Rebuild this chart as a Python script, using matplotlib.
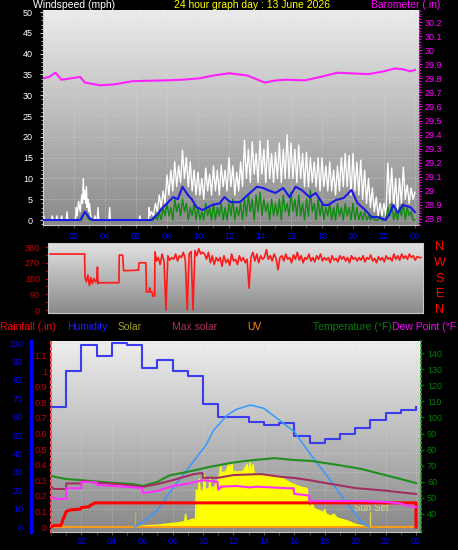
import numpy as np
import matplotlib
matplotlib.use('Agg')
import matplotlib.pyplot as plt
from matplotlib.colors import LinearSegmentedColormap
from matplotlib.ticker import MultipleLocator, FuncFormatter

plt.rcParams['font.family'] = ['Liberation Sans', 'DejaVu Sans']

# ---------------- data ----------------
hour_ticks = [2, 4, 6, 8, 10, 12, 14, 16, 18, 20, 22, 24]
hour_labels = ['02', '04', '06', '08', '10', '12', '14', '16', '18', '20', '22', '00']

# barometer (in)
baro_t = [0, 0.4, 0.8, 1.2, 1.8, 2.4, 2.7, 3.2, 3.7, 4.6, 5.8, 7.0, 8.0, 9.0, 10.1, 11.0, 12.0,
          13.2, 14.3, 15.0, 15.6, 16.9, 17.9, 19.0, 20.0, 21.0, 22.0, 22.7, 23.2, 23.7, 24.0]
baro = [29.80, 29.81, 29.84, 29.79, 29.80, 29.81, 29.77, 29.76, 29.75, 29.757, 29.78, 29.783,
        29.786, 29.79, 29.80, 29.82, 29.836, 29.82, 29.77, 29.785, 29.79, 29.786, 29.81, 29.84,
        29.835, 29.83, 29.85, 29.87, 29.865, 29.85, 29.86]

# wind gust (mph): sparse night samples, then 8 samples per hour from 07h
gust_early_t = [0, 0.05, 0.1, 0.55, 0.6, 0.65, 0.85, 0.9, 0.95, 1.15, 1.2, 1.25, 1.5, 1.55, 1.6,
                2.1, 2.15, 2.2, 2.3, 2.4, 2.5, 2.55, 2.6, 2.65, 2.7, 2.75, 2.8, 2.85, 2.9, 2.95,
                3.0, 3.1, 3.3, 3.35, 3.4, 3.5, 3.55, 3.6, 4.25, 4.3, 4.35, 6.2, 6.25, 6.3,
                6.8, 6.85, 6.9]
gust_early = [0, 1, 0, 0, 1, 0, 0, 1, 0, 0, 1, 0, 0, 2, 0, 0, 3, 1,
              4.5, 2, 6, 4, 10, 5, 7, 4, 8, 3, 5, 2, 4, 0,
              0, 1, 0, 0, 3, 0, 0, 3, 0, 0, 1, 0, 0, 3, 1]
gust_hourly = [
    [2, 1, 4, 2, 6, 3, 7, 4],              # 07
    [10.8, 6, 12, 7, 14, 8, 13, 9],        # 08
    [16.8, 10, 15, 8, 14, 7, 12, 6],       # 09
    [11.5, 6, 10, 5, 12.5, 7, 11, 6],      # 10
    [13, 7, 12, 6, 13.2, 8, 12, 7],        # 11
    [15, 8, 13, 6, 11.5, 7, 14, 8],        # 12
    [19.2, 10, 17, 9, 18.8, 11, 16, 9],    # 13
    [19, 11, 17, 9, 19.2, 10, 16, 9],      # 14
    [16.3, 10, 18.5, 9, 17, 10, 20.5, 10], # 15
    [18.5, 10, 17, 9, 18, 10, 16, 8],      # 16
    [16.3, 8, 15, 9, 14, 8, 15, 7],        # 17
    [14.9, 8, 13, 7, 14, 7, 12, 6],        # 18
    [13, 7, 15, 8, 16, 8, 15.5, 6],        # 19
    [16, 7, 14, 6, 14.4, 5, 12, 4],        # 20
    [10, 3, 7.7, 2, 5.5, 1, 4.1, 1],       # 21
    [4, 1, 13.7, 4, 12.5, 3, 10, 2],       # 22
    [10, 4, 12.7, 5, 8.4, 4, 7.7, 5],      # 23
]
gust_last = 6.7

# wind speed (mph)
speed_early_t = [0, 2.5, 2.6, 2.7, 2.8, 2.9, 3.0, 6.9]
speed_early = [0, 0, 1, 2, 1.5, 0.5, 0, 0]
speed_hourly = [
    [0, 0, 1, 0, 2, 0, 3, 1],
    [4, 1, 3, 0, 5, 2, 4, 1],
    [5, 2, 4, 0, 3, 1, 4, 0],
    [3, 0, 2, 0, 4, 1, 3, 0],
    [4, 0, 3, 1, 4, 0, 3, 0],
    [4, 1, 5, 0, 3, 1, 4, 0],
    [5, 1, 6, 2, 5, 0, 6, 2],
    [6.7, 1, 5, 2, 4, 0, 5, 1],
    [4, 1, 5, 0, 6, 2, 4, 1],
    [6.7, 2, 5, 1, 6, 1, 4, 0],
    [5, 1, 7.2, 2, 4, 0, 5, 1],
    [4, 0, 3, 1, 4, 0, 3, 0],
    [4, 1, 3, 0, 4, 1, 3, 0],
    [4, 0, 3, 0, 2, 0, 2, 0],
    [1, 0, 1, 0, 0, 0, 1, 0],
    [0, 0, 3, 1, 4, 0, 2, 0],
    [3, 1, 4, 0, 3, 1, 2, 0],
]
speed_last = 0

# average wind speed (mph)
avg_t = [0, 2.4, 2.55, 2.7, 2.85, 3.0, 3.2, 7.0, 7.35, 7.7, 8.0, 8.4, 8.7, 9.0, 9.35, 9.6, 9.9,
         10.3, 10.9, 11.4, 11.7, 12.1, 12.7, 13.2, 13.8, 14.2, 14.5, 15.0, 15.5, 15.9, 16.3,
         16.7, 17.2, 17.6, 18.1, 18.4, 18.9, 19.4, 19.9, 20.3, 20.8, 21.2, 21.6, 22.1, 22.4,
         22.6, 22.9, 23.2, 23.7, 24.0]
avg = [0, 0, 1, 2, 1.2, 0.5, 0, 0, 1.2, 2.9, 4, 5.5, 5, 8, 6, 5, 3.1,
       2.4, 3.6, 4, 5.5, 4.3, 4.3, 6, 8, 7.7, 7.2, 6.5, 7.7, 5.5, 8,
       7.2, 5.5, 6.5, 3.6, 3.6, 4.8, 5.3, 7.2, 4, 2.4, 0.7, 0.7, 0, 1.7,
       3.6, 1.7, 3.6, 3.1, 1.9]

# wind direction (deg)
dir_early_t = [0, 2.24, 2.26, 2.35, 2.45, 2.55, 2.65, 2.75, 2.85, 2.95, 3.03, 3.07, 3.1, 3.15,
               4.46, 4.48, 4.7, 4.76, 5.3, 5.72, 5.76, 6.2, 6.24, 6.4, 6.45, 6.5, 6.6, 6.64,
               6.77, 6.79, 6.9]
dir_early = [320, 320, 190, 160, 200, 140, 185, 150, 180, 160, 170, 246, 150, 156,
             156, 314, 314, 225, 226, 228, 270, 270, 103, 103, 126, 103, 103, 80,
             80, 333, 280]
dir_hourly = [
    [300, 260, 320, 280, 0, 310, 285, 300],    # 07
    [290, 320, 280, 310, 300, 330, 290, 0],    # 08
    [320, 335, 0, 340, 310, 350, 320, 330],    # 09
    [320, 290, 330, 270, 310, 260, 300, 280],  # 10
    [300, 250, 310, 270, 290, 255, 320, 280],  # 11
    [290, 260, 310, 280, 300, 270, 290, 125],  # 12
    [300, 330, 280, 320, 270, 310, 290, 300],  # 13
    [345, 290, 310, 280, 320, 295, 230, 300],  # 14
    [310, 280, 320, 290, 300, 270, 315, 290],  # 15
    [330, 285, 310, 270, 300, 290, 320, 280],  # 16
    [300, 275, 310, 290, 320, 280, 300, 285],  # 17
    [300, 270, 310, 285, 295, 275, 310, 290],  # 18
    [305, 280, 300, 270, 310, 290, 300, 280],  # 19
    [300, 285, 310, 275, 300, 290, 315, 280],  # 20
    [295, 270, 305, 285, 300, 275, 310, 290],  # 21
    [300, 280, 320, 290, 310, 285, 320, 295],  # 22
    [310, 290, 320, 300, 310, 285, 305, 300],  # 23
]
dir_last = 300

# bottom panel
hum_t = [0, 1, 2, 3, 4, 5, 6, 7, 8, 9, 10, 11, 12, 13, 14, 15, 16, 17, 18, 19, 20, 21, 22, 23, 24]
hum = [65, 85, 99, 93, 100, 99, 86.5, 91, 85, 82, 67, 60, 60, 57, 55.5, 56.5, 49.5, 45.6, 47.8,
       50.5, 54, 58, 62, 63.5, 65]

temp_t = [0, 1, 2, 3.2, 4.3, 5.4, 6.05, 7.0, 7.8, 8.9, 10.3, 11.8, 12.8, 14.7, 16.0, 17.1,
          18.9, 20.4, 22.0, 23.0, 24.0]
temp = [63.6, 61.7, 61.0, 60.0, 59.2, 58.6, 57.4, 60.0, 64.0, 66.0, 69.0, 71.7, 73.0, 74.7,
        73.5, 73.0, 70.4, 68.0, 64.1, 61.7, 59.2]

dew_t = [0, 0.4, 1.0, 1.0, 2.0, 2.0, 3.0, 3.0, 4.1, 5.1, 6.0, 6.05, 7.0, 8.0, 9.0, 10.0, 10.95,
         11.0, 11.2, 12.2, 13.1, 13.5, 15.5, 15.95, 16.0, 16.95, 17.0, 19.0, 20.5, 22.0, 23.0,
         23.5, 24.0]
dew = [50.6, 49.3, 49.3, 56.0, 56.0, 60.0, 59.5, 58.0, 57.4, 56.8, 56.0, 53.0, 54.3, 57.4, 58.8,
       61.0, 60.0, 55.0, 57.0, 57.4, 56.5, 57.0, 56.0, 56.0, 52.5, 51.5, 48.0, 48.0, 48.0, 47.5,
       46.5, 45.0, 44.3]

maroon_t = [0, 0.2, 1.0, 1.0, 2.0, 2.0, 3.0, 4.5, 6.0, 7.0, 8.0, 9.4, 9.95, 10.0, 11.0, 12.0,
            13.8, 15.2, 16.0, 17.0, 18.0, 20.1, 22.0, 24.0]
maroon = [56.8, 55.5, 55.5, 59.0, 59.0, 60.5, 59.5, 58.5, 56.8, 58.6, 61.0, 64.8, 65.5, 62.5,
          62.5, 64.2, 64.8, 63.0, 62.4, 61.0, 59.3, 56.0, 54.5, 52.4]

rain_t = [0, 0.2, 0.65, 0.8, 1.0, 1.3, 1.95, 2.0, 2.5, 2.6, 2.9, 24.0, 24.0]
rain = [0, 0.01, 0.01, 0.05, 0.1, 0.11, 0.115, 0.125, 0.13, 0.14, 0.155, 0.155, 0]

maxsol_t = [5.5, 6.0, 7.0, 8.0, 9.1, 10.2, 10.7, 11.6, 12.2, 13.1, 14.0, 15.0, 16.0, 17.1, 18.2,
            19.3, 20.4, 20.9]
maxsol = [0, 2.5, 9.2, 21, 32.8, 44.6, 52.7, 60.9, 64, 66.3, 64.5, 58.2, 51.8, 39.1, 27.3, 14.7,
          2.9, 0]

solar_t = [0, 5.5, 6.0, 6.5, 7.0, 7.5, 8.0, 8.5, 8.8, 8.85, 8.9, 9.2, 9.5, 9.55, 9.7, 9.75, 9.8,
           10.0, 10.1, 10.15, 10.4, 10.45, 10.5, 10.8, 10.95, 11.1, 11.15, 11.2, 11.5, 11.7,
           11.75, 11.9, 11.95, 12.2, 12.25, 12.3, 12.6, 12.9, 12.95, 13.1, 13.15, 13.3, 13.35,
           13.6, 14.0, 14.5, 15.0, 15.05, 15.1, 15.5, 16.0, 16.5, 16.85, 16.9, 17.1, 17.2, 17.3,
           17.6, 17.9, 18.0, 18.1, 18.4, 18.6, 18.8, 19.2, 19.6, 20.0, 20.4, 20.9, 24.0]
solar = [0, 0, 0.5, 0.8, 1, 1.5, 2, 2.5, 3, 7, 3, 4, 4.5, 20, 19.5, 26, 19.5, 20, 28, 20.5,
         21, 27, 21, 22, 25.5, 29, 33, 29.5, 30, 34, 30, 35, 30, 30, 20, 30, 30, 34, 29, 35,
         30, 34, 29, 29, 28.5, 28, 27.5, 17, 27.5, 25, 23, 21.5, 21, 12, 11, 13, 10, 9, 8, 9.5,
         7, 6, 7, 5, 4, 3, 1.5, 0.7, 0, 0]

uv_t = [0, 24]
uv = [0, 0]

sun_events = [5.5, 20.95]
sun_marker_height = [8, 8]

# ---------------- helpers ----------------
W, H = 458, 550
fig = plt.figure(figsize=(W / 100, H / 100), dpi=100, facecolor='black')
PX = 0.72  # points per pixel


def hourly_series(start, blocks, last):
    vals = [v for b in blocks for v in b] + [last]
    t = [start + i / len(blocks[0]) for i in range(len(vals))]
    return t, vals


def panel(l, t, r, b, c0, c1):
    pos = [l / W, 1 - b / H, (r - l) / W, (b - t) / H]
    bg = fig.add_axes(pos, zorder=-1)
    bg.imshow(np.linspace(0, 1, 256).reshape(-1, 1), aspect='auto',
              cmap=LinearSegmentedColormap.from_list('g', [c0, c1]),
              extent=[0, 1, 0, 1], interpolation='bilinear')
    bg.axis('off')
    ax = fig.add_axes(pos, zorder=0)
    ax.patch.set_visible(False)
    return ax


fmt1 = FuncFormatter(lambda v, p: f'{round(v, 2):g}')

# ---------------- top panel: wind + barometer ----------------
ax1 = panel(43, 10, 419, 225, '#ececec', '#8a8a8a')
gt, gv = hourly_series(7.0, gust_hourly, gust_last)
st, sv = hourly_series(7.0, speed_hourly, speed_last)
ax1.plot(gust_early_t + gt, gust_early + gv, color='white', lw=1.0, zorder=2)
ax1.plot(speed_early_t + st, speed_early + sv, color='#108a10', lw=1.0, zorder=3)
ax1.plot(avg_t, avg, color='#1a1ae6', lw=1.5, zorder=4)
ax1.set_xlim(0, 24.26)
ax1.set_ylim(-1.2, 50.5)
ax1.yaxis.set_major_locator(MultipleLocator(5))
ax1.yaxis.set_minor_locator(MultipleLocator(1))
ax1.set_xticks(hour_ticks, hour_labels)
ax1.xaxis.set_minor_locator(MultipleLocator(1))
ax1.tick_params(axis='y', which='both', colors='#c8c8c8', labelcolor='white', labelsize=6.5,
                length=3 * PX, pad=7 * PX)
ax1.tick_params(axis='y', which='minor', length=2 * PX)
ax1.tick_params(axis='x', which='both', colors='#505050', labelcolor='#0000ff', labelsize=6.5,
                length=3 * PX, pad=4 * PX)
ax1.grid(True, which='major', color='#d8d8d8', ls=':', lw=0.6, alpha=0.7)
for s in ['top', 'right']:
    ax1.spines[s].set_visible(False)
ax1.spines['left'].set_color('#d0d0d0')
ax1.spines['bottom'].set_color('#c8c8c8')

ax1b = ax1.twinx()
ax1b.plot(baro_t, baro, color='#ff20ff', lw=1.5, zorder=5)
ax1b.set_ylim(28.757, 30.286)
ax1b.yaxis.set_major_locator(MultipleLocator(0.1))
ax1b.yaxis.set_minor_locator(MultipleLocator(0.02))
ax1b.yaxis.set_major_formatter(fmt1)
ax1b.tick_params(axis='y', which='both', colors='#ff00ff', labelsize=6.5, length=3 * PX,
                 pad=3 * PX)
ax1b.tick_params(axis='y', which='minor', length=2 * PX)
for s in ['top', 'left', 'bottom']:
    ax1b.spines[s].set_visible(False)
ax1b.spines['right'].set_color('#ff00ff')
ax1b.spines['right'].set_linestyle(':')

fig.text(33 / W, 1 - 5 / H, 'Windspeed (mph)', color='white', fontsize=7.5, va='center')
fig.text(252 / W, 1 - 5 / H, '24 hour graph day : 13 June 2026', color='#ffff00',
         fontsize=7.5, va='center', ha='center')
fig.text(371 / W, 1 - 5 / H, 'Barometer (.in)', color='#ff00ff', fontsize=7.5, va='center')

# ---------------- middle panel: wind direction ----------------
ax2 = panel(48, 243, 423, 313, '#e2e2e2', '#8a8a8a')
dt, dv = hourly_series(7.0, dir_hourly, dir_last)
ax2.plot(dir_early_t + dt, dir_early + dv, color='#ff1a1a', lw=1.2)
ax2.set_xlim(-0.13, 24.13)
ax2.set_ylim(-17, 383)
ax2.set_yticks([0, 90, 180, 270, 360])
ax2.yaxis.set_minor_locator(MultipleLocator(45))
ax2.set_xticks([])
ax2.tick_params(axis='y', which='both', colors='#cc0000', labelsize=6.5, length=3 * PX,
                pad=5 * PX)
for s in ax2.spines.values():
    s.set_color('#c8c8c8')
    s.set_linewidth(0.8)
ytr = ax2.get_yaxis_transform()
for lab, v in zip(['N', 'W', 'S', 'E', 'N'], [360, 270, 180, 90, 0]):
    ax2.text(1.045, v, lab, transform=ytr, color='#ff0000', fontsize=9, ha='center',
             va='center')

# legend row
legend_items = [('Rainfall (.in)', 0, '#ff0000'), ('Humidity', 67, '#2020ff'),
                ('Solar', 118, '#a0a020'), ('Max solar', 172, '#b03060'),
                ('UV', 247, '#ff8c1a'), ('Temperature (°F)', 313, '#008000'),
                ('Dew Point (°F', 392, '#ff00ff')]
for txt, x, c in legend_items:
    fig.text(x / W, 1 - 327 / H, txt, color=c, fontsize=7.5, va='center', ha='left')

# ---------------- bottom panel ----------------
ax3 = panel(51, 341, 421, 532, '#eeeeee', '#888888')
ax3.fill_between(solar_t, 0, solar, color='#ffff00', lw=0, zorder=2)
ax3.plot(solar_t, solar, color='#ffff00', lw=1.0, zorder=2)
ax3.vlines(sun_events, 0, sun_marker_height, colors=['#b8b830', '#d8d850'], lw=1.0, zorder=3)
ax3.plot(uv_t, uv, color='#ff9a1a', lw=1.5, zorder=3)
ax3.plot(hum_t, hum, color='#3b3bef', lw=1.5, drawstyle='steps-post', zorder=4)
ax3.plot(maxsol_t, maxsol, color='#3399ff', lw=1.1, zorder=4)
ax3.text(19.9, 10.3, 'Sun Set', color='#d8d870', fontsize=7, va='center', ha='left', zorder=5)
ax3.set_xlim(0, 24.33)
ax3.set_ylim(-2.7, 101.1)
ax3.set_yticks(range(0, 101, 10))
ax3.set_xticks(hour_ticks, hour_labels)
ax3.xaxis.set_minor_locator(MultipleLocator(1))
ax3.tick_params(axis='y', colors='#0000ff', labelsize=6.5, length=0, pad=8 * PX)
ax3.tick_params(axis='x', which='both', colors='#505050', labelcolor='#0000ff', labelsize=6.5,
                length=3 * PX, pad=2 * PX)
ax3.grid(True, which='major', color='#d8d8d8', ls=':', lw=0.6, alpha=0.6)
ax3.spines['left'].set_position(('outward', 20 * PX))
ax3.spines['left'].set_color('#0000ff')
ax3.spines['left'].set_linewidth(2.5)
ax3.spines['top'].set_visible(False)
ax3.spines['right'].set_visible(False)
ax3.spines['bottom'].set_color('#c8c8c8')

ax3r = ax3.twinx()
ax3r.yaxis.tick_left()
ax3r.plot(rain_t, rain, color='#ff0000', lw=2.2, zorder=6)
ax3r.set_ylim(-0.032, 1.194)
ax3r.set_yticks([round(0.1 * i, 1) for i in range(12)])
ax3r.yaxis.set_major_formatter(fmt1)
ax3r.tick_params(axis='y', colors='#cc0000', labelsize=6.5, length=2 * PX, pad=2 * PX)
for s in ['top', 'right', 'bottom']:
    ax3r.spines[s].set_visible(False)
ax3r.spines['left'].set_color('#ff5050')
ax3r.spines['left'].set_linestyle(':')
ax3r.spines['left'].set_linewidth(1.5)

ax3t = ax3.twinx()
ax3t.plot(temp_t, temp, color='#1f8f1f', lw=1.5, zorder=5)
ax3t.plot(maroon_t, maroon, color='#a03060', lw=1.5, zorder=5)
ax3t.plot(dew_t, dew, color='#ff30ff', lw=1.5, zorder=5)
ax3t.set_ylim(28.8, 147.5)
ax3t.set_yticks(range(40, 141, 10))
ax3t.tick_params(axis='y', colors='#008000', labelsize=6.5, length=3 * PX, pad=3 * PX)
for s in ['top', 'left', 'bottom']:
    ax3t.spines[s].set_visible(False)
ax3t.spines['right'].set_color('#20a020')
ax3t.spines['right'].set_linestyle(':')
ax3t.spines['right'].set_linewidth(1.2)

fig.savefig('out.png', dpi=100, facecolor='black')
